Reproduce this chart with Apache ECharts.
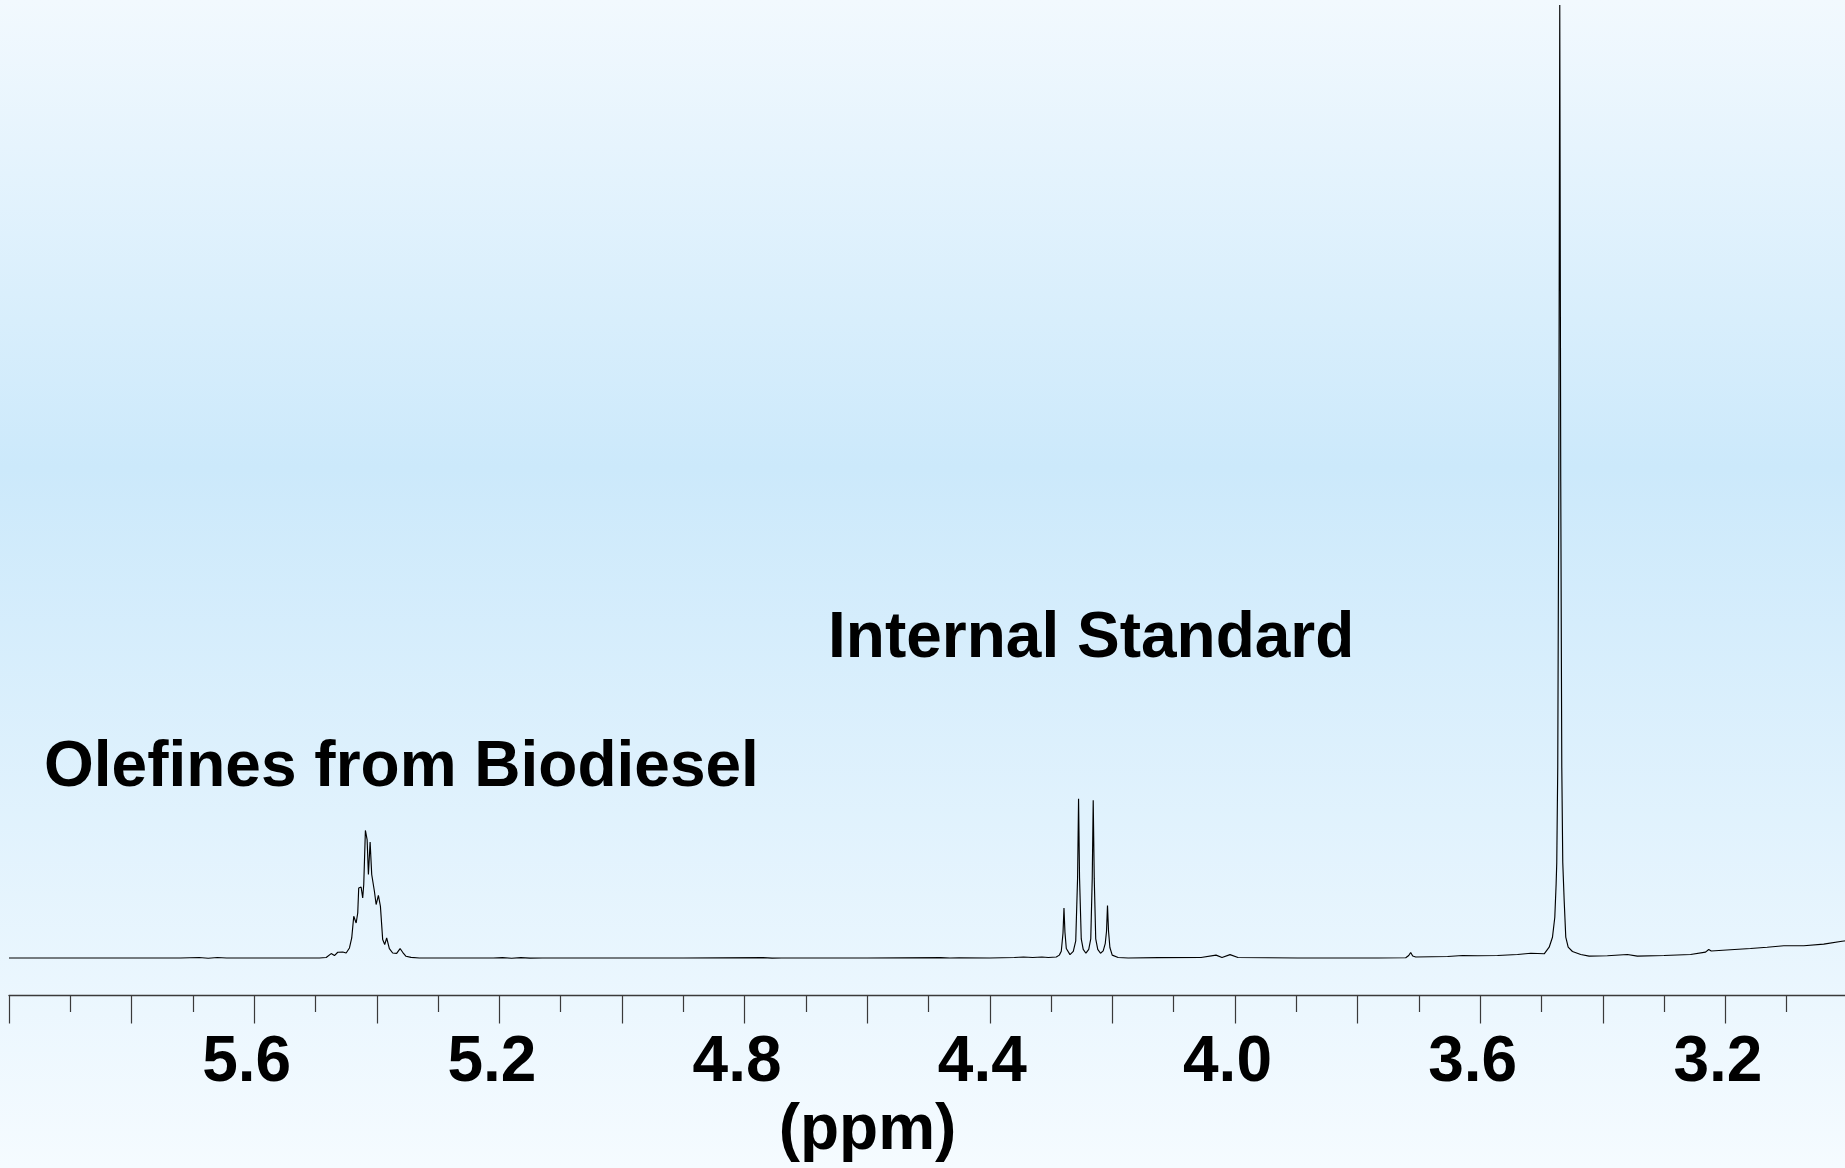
<!DOCTYPE html>
<html>
<head>
<meta charset="utf-8">
<script src="https://cdn.jsdelivr.net/npm/echarts@6/dist/echarts.min.js"></script>
<style>
html,body{margin:0;padding:0;width:1845px;height:1168px;overflow:hidden;}
#chart{width:1851px;height:1168px;}
</style>
</head>
<body>
<div id="chart"></div>
<script>
// ---- data (chemical shift in ppm, relative intensity; tallest peak = 100) ----
const tickLabels = ['5.6', '5.2', '4.8', '4.4', '4.0', '3.6', '3.2'];
const axisTitle = '(ppm)';
const labelOlefin = 'Olefines from Biodiesel';
const labelStandard = 'Internal Standard';

const baseLeftPpm = [6.0, 5.72, 5.69, 5.675, 5.66, 5.645, 5.63, 5.55, 5.5098];
const baseLeftInt = [0, 0, 0.05, -0.03, 0.05, 0, 0, 0, 0];

const olefinPpm = [5.4935, 5.4826, 5.4744, 5.4691, 5.4637, 5.4555, 5.4500, 5.4446, 5.4409, 5.4376, 5.4337, 5.4311, 5.4295, 5.4256, 5.4230, 5.4213, 5.4186, 5.4158, 5.4137, 5.4109, 5.4083, 5.4039, 5.4011, 5.3974, 5.3941, 5.3904, 5.3871, 5.3839, 5.3795, 5.3741, 5.3676, 5.3620, 5.3578, 5.3523, 5.3441, 5.3306];
const olefinInt = [0, 0.05, 0.46, 0.25, 0.60, 0.63, 0.52, 1.05, 2.10, 4.38, 3.67, 4.72, 7.35, 7.45, 6.30, 7.71, 13.38, 12.43, 8.76, 12.18, 8.76, 7.00, 5.61, 6.58, 5.43, 1.93, 1.41, 2.10, 0.99, 0.52, 0.49, 0.99, 0.60, 0.18, 0.07, 0];

const baseMidPpm = [5.25, 5.21, 5.195, 5.18, 5.165, 5.15, 5.13, 4.90, 4.77, 4.755, 4.74, 4.60, 4.48, 4.465, 4.45, 4.40, 4.36, 4.345, 4.33, 4.315];
const baseMidInt = [0, 0, 0.04, -0.03, 0.04, -0.02, 0, 0, 0.03, -0.02, 0, 0, 0.04, 0, 0.02, 0, 0.05, 0.1, 0.05, 0.1];

const standardPpm = [4.3046, 4.2915, 4.2866, 4.2834, 4.2806, 4.2790, 4.2774, 4.2752, 4.2692, 4.2638, 4.2598, 4.2568, 4.2552, 4.2536, 4.2508, 4.2476, 4.2432, 4.2386, 4.2353, 4.2329, 4.2313, 4.2296, 4.2272, 4.2239, 4.2194, 4.2150, 4.2117, 4.2096, 4.2080, 4.2063, 4.2041, 4.2003, 4.1906, 4.1743];
const standardInt = [0.05, 0.1, 0.3, 0.7, 2.6, 5.23, 2.7, 1.0, 0.35, 0.7, 1.8, 8.4, 16.71, 8.4, 2.0, 0.9, 0.5, 0.9, 2.0, 8.3, 16.54, 8.3, 2.0, 0.9, 0.5, 0.75, 1.5, 2.8, 5.51, 2.8, 1.1, 0.3, 0.05, 0];

const baseRightPpm = [4.1254, 4.0554, 4.0309, 4.0212, 4.0081, 3.9951, 3.8974, 3.7671, 3.7215, 3.7166, 3.7134, 3.7101, 3.7052, 3.6531, 3.6287, 3.6042, 3.5717, 3.5391, 3.5174, 3.4956];
const baseRightInt = [0.03, 0.05, 0.3, 0.05, 0.35, 0.05, 0, 0, 0.02, 0.26, 0.58, 0.21, 0.10, 0.16, 0.26, 0.23, 0.26, 0.37, 0.50, 0.44];

const mainPeakPpm = [3.4875, 3.4821, 3.4783, 3.4761, 3.4751, 3.4735, 3.4718, 3.4702, 3.4686, 3.4669, 3.4653, 3.4630, 3.4604, 3.4565, 3.4495, 3.4360];
const mainPeakInt = [1.13, 2.18, 4.28, 7.82, 10, 20, 50, 100, 50, 20, 10, 6.0, 2.18, 1.13, 0.68, 0.37];

const tailPpm = [3.4223, 3.3925, 3.3599, 3.3436, 3.3002, 3.2568, 3.2324, 3.2272, 3.2252, 3.2231, 3.2215, 3.1917, 3.1591, 3.1319, 3.1047, 3.0721, 3.0396, 3.0098, 3.0];
const tailInt = [0.19, 0.23, 0.37, 0.19, 0.26, 0.37, 0.61, 0.89, 1.07, 0.73, 0.61, 0.86, 1.00, 1.13, 1.28, 1.28, 1.45, 1.76, 1.84];

// ---- build the series ----
const spectrum = [];
[[baseLeftPpm, baseLeftInt], [olefinPpm, olefinInt], [baseMidPpm, baseMidInt],
 [standardPpm, standardInt], [baseRightPpm, baseRightInt], [mainPeakPpm, mainPeakInt],
 [tailPpm, tailInt]].forEach(([p, v]) => p.forEach((x, i) => spectrum.push([x, v[i]])));

const FONT = '"Liberation Sans", Arial, Helvetica, sans-serif';
const chart = echarts.init(document.getElementById('chart'), null, {renderer: 'canvas'});
chart.setOption({
  animation: false,
  backgroundColor: {
    type: 'linear', x: 0, y: 0, x2: 0, y2: 1,
    colorStops: [
      {offset: 0, color: '#f2f9fe'},
      {offset: 0.40, color: '#cce9fb'},
      {offset: 1, color: '#f5fbff'}
    ]
  },
  grid: {left: 9, top: 0, right: 0, height: 995.5},
  xAxis: {
    type: 'value', inverse: true, min: 3.0, max: 6.0, interval: 0.2,
    axisLine: {show: true, onZero: false, lineStyle: {color: '#3a3a3a', width: 1.4}},
    axisTick: {show: true, length: 28, lineStyle: {color: '#3a3a3a', width: 1.2}},
    minorTick: {show: true, splitNumber: 2, length: 16.5, lineStyle: {color: '#3a3a3a', width: 1.2}},
    splitLine: {show: false}, minorSplitLine: {show: false},
    axisLabel: {
      show: true, margin: 36, fontSize: 64, fontWeight: 'bold', color: '#000', fontFamily: FONT,
      padding: [0, 15, 0, 0],
      formatter: v => { const t = tickLabels.find(l => Math.abs(parseFloat(l) - v) < 1e-6); return t || ''; }
    }
  },
  yAxis: {type: 'value', min: -3.937, max: 100.525, show: false, splitLine: {show: false}},
  graphic: [
    {type: 'text', left: 44, top: 768.5 - 32, style: {text: labelOlefin, font: 'bold 64px ' + FONT, fill: '#000'}},
    {type: 'text', left: 828, top: 639.5 - 32, style: {text: labelStandard, font: 'bold 64px ' + FONT, fill: '#000'}},
    {type: 'text', x: 867.5, y: 1131.5, style: {text: axisTitle, font: 'bold 64px ' + FONT, fill: '#000', textAlign: 'center', textVerticalAlign: 'middle'}}
  ],
  series: [{
    type: 'line', data: spectrum, showSymbol: false, symbol: 'none', clip: false,
    lineStyle: {color: '#000', width: 1.15}, silent: true
  }]
});
</script>
</body>
</html>
